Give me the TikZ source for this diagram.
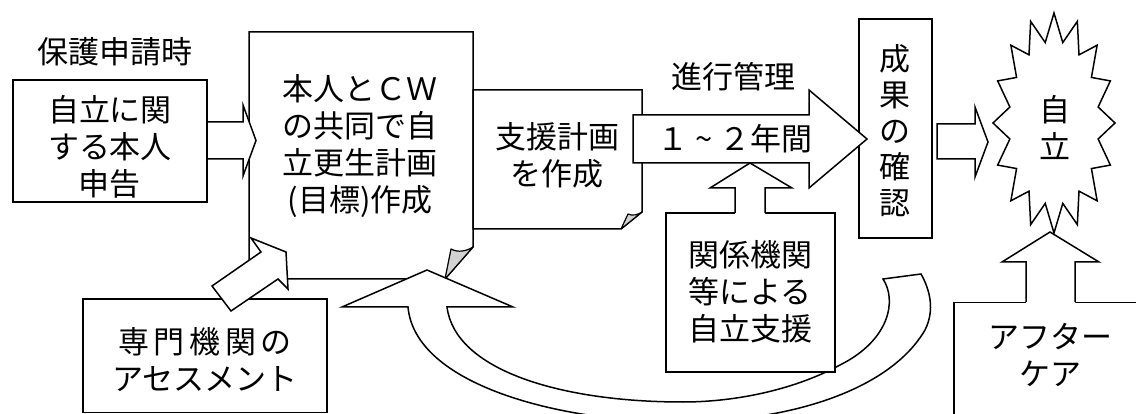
\documentclass[tikz,border=0pt]{standalone}
\usepackage{fontspec}
\setmainfont{Noto Sans CJK JP}
\tikzset{
  box/.style={draw, line width=1.5pt, fill=white, inner sep=0pt, rectangle},
  barrow/.style={draw, line width=1.5pt, fill=white, line join=miter},
  bline/.style={draw, line width=1.5pt, line join=miter},
  foldc/.style={draw, line width=1.2pt, fill=gray!35, line join=round},
  txt/.style={font=\fontsize{31}{37}\selectfont, align=center, inner sep=0pt},
  vtxt/.style={font=\fontsize{31}{36}\selectfont, align=center, inner sep=0pt},
}
\begin{document}
\begin{tikzpicture}[x=1pt,y=-1pt]
\useasboundingbox (0,0) rectangle (1136,414);
\fill[white] (0,0) rectangle (1136,414);

% document with folded corner (plan with CW)
\coordinate (docA) at (249,32);
\draw[barrow] (docA) -- (473,32) -- (473,247) -- (445,279) -- (249,279) -- cycle;
\draw[foldc] (451,249) .. controls (458,253) and (467,251) .. (473,247) -- (445,279) -- cycle;

% support plan sheet
\coordinate (planA) at (473,90);
\draw[barrow] (planA) -- (642,90) -- (642,212) -- (621,229) -- (473,229) -- cycle;
\draw[foldc] (628,214) .. controls (632,216) and (638,215) .. (642,212) -- (621,229) -- cycle;

% return curved arrow
\draw[barrow] (921,274) .. controls (930,290) and (935,310) .. (925,330)
  .. controls (890,390) and (790,422) .. (680,422)
  .. controls (560,422) and (415,385) .. (408,307)
  -- (342,307) -- (427,270) -- (513,307) -- (447,307)
  .. controls (455,370) and (560,402) .. (683,402)
  .. controls (730,402) and (790,392) .. (840,365)
  .. controls (890,340) and (897,300) .. (883,279) -- cycle;

% boxes
\node[box, minimum width=194pt, minimum height=122pt] (self) at (110,141) {};
\node[box, minimum width=73pt, minimum height=219pt] (result) at (895.5,128.5) {};
\node[box, minimum width=169pt, minimum height=159pt] (agency) at (750.5,292.5) {};
\node[box, minimum width=244pt, minimum height=113.5pt] (assess) at (205,355.75) {};
\node[box, minimum width=200pt, minimum height=140pt, anchor=north west] (after) at (953,302) {};

% arrow self -> doc
\draw[barrow] (207,122) -- (243,122) -- (243,105) -- (256,140.5) -- (243,176) -- (243,159) -- (207,159) -- cycle;

% big progress arrow
\draw[barrow] (633,115) -- (809,115) -- (809,90) -- (867,139) -- (809,188) -- (809,163) -- (633,163) -- cycle;

% agency up arrow
\fill[white] (735,216) -- (735,188) -- (710,188) -- (750,163) -- (792,188) -- (765,188) -- (765,216) -- cycle;
\draw[bline] (735,213) -- (735,188) -- (710,188) -- (750,163) -- (792,188) -- (765,188) -- (765,213);

% result -> independence arrow
\draw[barrow] (937,124) -- (975,124) -- (975,107) -- (988,142) -- (975,177) -- (975,159) -- (937,159) -- cycle;

% aftercare up arrow
\fill[white] (1026,305) -- (1026,262) -- (1002,262) -- (1050,232) -- (1099,262) -- (1075,262) -- (1075,305) -- cycle;
\draw[bline] (1026,302) -- (1026,262) -- (1002,262) -- (1050,232) -- (1099,262) -- (1075,262) -- (1075,302);

% diagonal arrow from assessment
\draw[barrow] (212,286) -- (261,252) -- (251,238) -- (286,252) -- (288,289) -- (278,279) -- (231,311) -- cycle;

% starburst
\draw[barrow] (1054,13) \foreach \k in {1,...,31} {
  -- ({1054+(61-16*mod(\k,2))*sin(\k*11.25)},{123-(110-28*mod(\k,2))*cos(\k*11.25)}) } -- cycle;

% texts
\node[txt] (tapply) at (115,52) {保護申請時};
\node[txt] (tself) at (110,147) {自立に関\\する本人\\申告};
\node[txt] (tdoc) at (360,146) {本人とＣＷ\\の共同で自\\立更生計画\\(目標)作成};
\node[txt] (tplan) at (557,155) {支援計画\\を作成};
\node[txt] (tprog) at (733,77) {進行管理};
\node[txt] (tyear) at (735,139) {１\makebox[31pt]{\textasciitilde}２年間};
\node[vtxt] (tres) at (895,131) {成\\果\\の\\確\\認};
\node[txt] (tind) at (1055,128) {自\\立};
\node[txt] (tagency) at (750,292) {関係機関\\等による\\自立支援};
\node[txt] (tassess) at (205,360) {\makebox[174pt]{専\hfill 門\hfill 機\hfill 関\hfill の}\\アセスメント};
\node[txt] (tafter) at (1050,355) {アフター\\ケア};
\end{tikzpicture}
\end{document}
